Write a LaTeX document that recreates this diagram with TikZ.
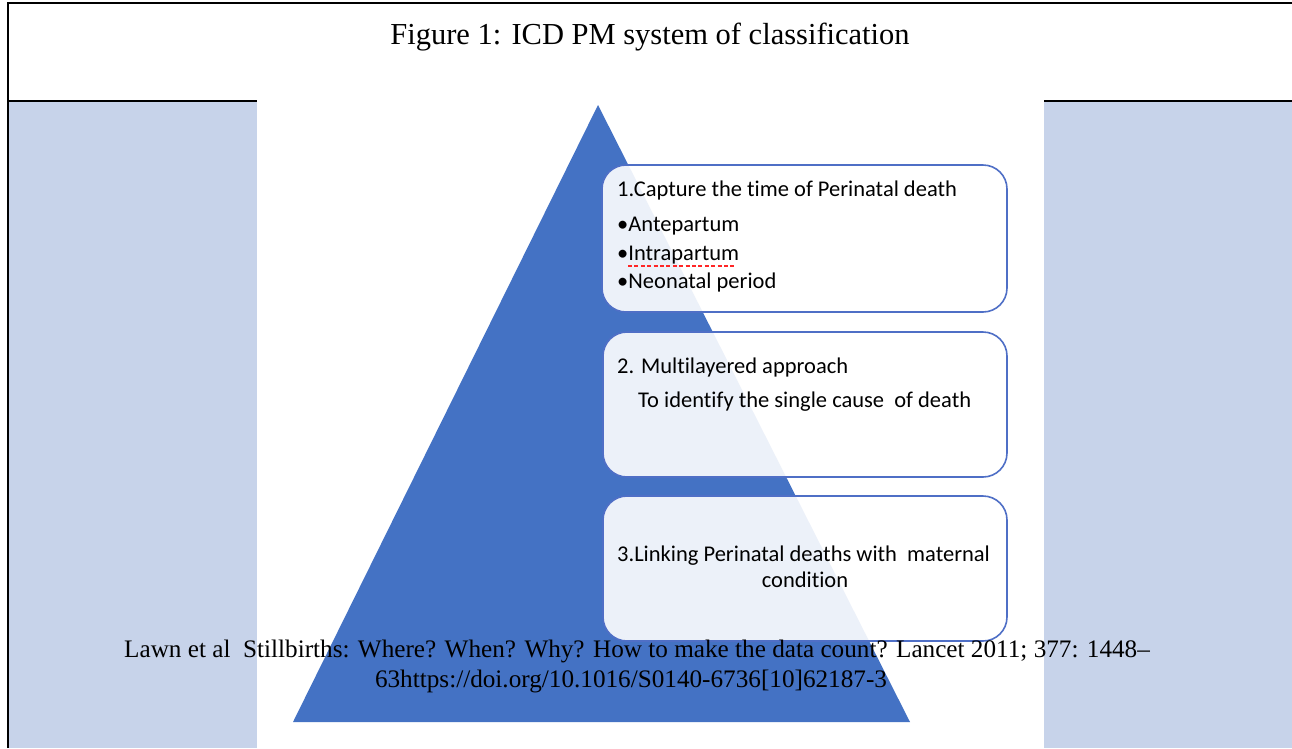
\documentclass[tikz,border=0pt]{standalone}
\usepackage{fontspec}
\setmainfont{Liberation Serif}
\newfontfamily\boxfont[Ligatures={NoCommon}]{Carlito}
\begin{document}
\begin{tikzpicture}[x=1pt,y=-1pt,
  panel/.style={fill=panelblue,draw=none},
  stagebox/.style={draw=boxline,line width=1.6pt,fill=white,fill opacity=0.9,rounded corners=24pt},
  boxtext/.style={font=\boxfont\fontsize{22.5}{26}\selectfont,text=black,inner sep=0pt,anchor=base west},
  citetext/.style={font=\fontsize{25.2}{29}\selectfont,inner sep=0pt,anchor=base},
  frameline/.style={line width=1.2pt,draw=black}]
\definecolor{panelblue}{HTML}{C7D3EA}
\definecolor{pyrblue}{HTML}{4472C4}
\definecolor{boxline}{HTML}{4F6FC6}
\useasboundingbox (0,0) rectangle (1292,748);
\fill[white] (0,0) rectangle (1292,748);
% side panels
\path[panel] (8,101) rectangle (257,748);
\path[panel] (1044,101) rectangle (1292,748);
% frame
\draw[frameline] (8,748) -- (8,3) -- (1292,3);
\draw[frameline] (8,101) -- (257,101);
\draw[frameline] (1044,101) -- (1292,101);
% title
\node[font=\fontsize{30.5}{34}\selectfont,inner sep=0pt,anchor=base] (title) at (650,44) {Figure 1: ICD PM system of classification};
% pyramid
\fill[pyrblue] (598,105) -- (910,722) -- (293,722) -- cycle;
% boxes
\path[stagebox] (602,165) rectangle (1007,312);
\path[stagebox] (603,332) rectangle (1007,477);
\path[stagebox] (603,496) rectangle (1007,641);
% box 1 text
\node[boxtext] (t1) at (617,196) {1.Capture the time of Perinatal death};
\node[boxtext] (t1a) at (617,231) {•Antepartum};
\node[boxtext] (t1b) at (617,260) {•Intrapartum};
\node[boxtext] (t1c) at (617,288) {•Neonatal period};
\draw[red!85!white,line width=2.6pt,dash pattern=on 4pt off 2.4pt] (628,266) -- (734,266);
% box 2 text
\node[boxtext] (t2) at (617,373) {2. Multilayered approach};
\node[boxtext] (t2a) at (638,407) {To identify the single cause\ \ of death};
% box 3 text
\node[boxtext] (t3) at (617,561) {3.Linking Perinatal deaths with\ \ maternal};
\node[boxtext,anchor=base] (t3a) at (805,587) {condition};
% citation
\node[citetext] (c1) at (637,657) {Lawn et al\ \ Stillbirths: Where? When? Why? How to make the data count? Lancet 2011; 377: 1448–};
\node[citetext] (c2) at (631,687) {63https://doi.org/10.1016/S0140-6736[10]62187-3};
\end{tikzpicture}
\end{document}
